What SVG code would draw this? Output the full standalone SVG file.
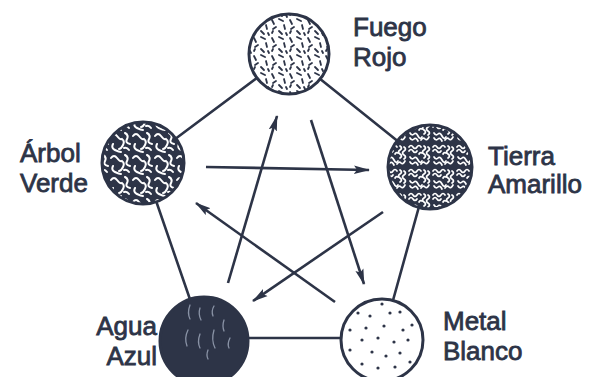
<svg xmlns="http://www.w3.org/2000/svg" width="593" height="377" viewBox="0 0 593 377">
<style>
.lbl{font-family:"Liberation Sans","Noto Sans",sans-serif;font-size:26px;fill:#2d3447;stroke:#2d3447;stroke-width:0.8}
.edge{stroke:#2d3447;stroke-width:2.6;fill:none;stroke-linecap:round}
.arr{stroke:#2d3447;stroke-width:2.6;fill:none;marker-end:url(#ah)}
.ring{stroke:#2d3447;stroke-width:3}
</style>
<defs>
<marker id="ah" markerUnits="userSpaceOnUse" markerWidth="18" markerHeight="10" refX="15" refY="5" orient="auto">
<path d="M0,0.8 L16,5 L0,9.2 L3,5 z" fill="#2d3447"/>
</marker>
<pattern id="pFuego" patternUnits="userSpaceOnUse" width="18" height="18">
<rect width="18" height="18" fill="#fff"/>
<g stroke="#2d3447" stroke-width="1.8" stroke-linecap="round">
<path d="M2,2 l2,4"/><path d="M9,1 l4,2"/><path d="M14,7 l1,4"/><path d="M6,9 l-3,2"/><path d="M9,13 l3,3"/><path d="M2,15 l1,-2"/><path d="M16,15 l1,2"/>
</g>
</pattern>
<pattern id="pArbol" patternUnits="userSpaceOnUse" width="22" height="22">
<rect width="22" height="22" fill="#2d3447"/>
<g stroke="#fff" stroke-width="2" fill="none" stroke-linecap="round">
<path d="M1,4 q3,-4 6,0 t5,3 q3,2 1,6 t-4,4"/>
<path d="M15,1 q4,2 2,6 t3,5"/>
<path d="M3,12 q-2,4 2,6 t6,2"/>
<path d="M14,16 q3,-1 5,2"/>
</g>
</pattern>
<pattern id="pTierra" patternUnits="userSpaceOnUse" width="24" height="24">
<rect width="24" height="24" fill="#2d3447"/>
<g stroke="#fff" stroke-width="1.7" fill="none" stroke-linecap="round">
<path d="M1,3 q2,-3 4,0 t4,0 t4,0"/>
<path d="M1,7 q2,-3 4,0 t4,0"/>
<path d="M16,2 q3,2 0,4 t0,4 t0,4"/>
<path d="M20,3 q3,2 0,4 t0,4 t0,4"/>
<path d="M2,13 q2,3 4,1 t4,2 t4,1"/>
<path d="M2,18 q2,3 4,1 t4,2"/>
<path d="M13,20 q2,-3 4,-1 t4,-2"/>
<path d="M11,10 q1,-2 3,-1"/>
</g>
</pattern>
</defs>

<g id="connectors">
<line class="edge" x1="289" y1="54" x2="143" y2="163"/>
<line class="edge" x1="289" y1="54" x2="430" y2="167"/>
<line class="edge" x1="143" y1="163" x2="204" y2="340"/>
<line class="edge" x1="430" y1="167" x2="382" y2="340"/>
<line class="edge" x1="204" y1="338" x2="382" y2="338"/>
<line class="arr" x1="206" y1="167" x2="369" y2="170"/>
<line class="arr" x1="228" y1="283" x2="277" y2="116"/>
<line class="arr" x1="311" y1="120" x2="364" y2="284"/>
<line class="arr" x1="383" y1="212" x2="253" y2="301"/>
<line class="arr" x1="335" y1="302" x2="196" y2="203"/>
</g>

<g id="fuego">
<circle class="ring" cx="289" cy="54" r="40" fill="url(#pFuego)"/>
<text class="lbl" x="353" y="36">Fuego</text>
<text class="lbl" x="353" y="66">Rojo</text>
</g>
<g id="arbol">
<circle class="ring" cx="143" cy="163" r="41" fill="url(#pArbol)"/>
<text class="lbl" x="20" y="162">Árbol</text>
<text class="lbl" x="20" y="192">Verde</text>
</g>
<g id="tierra">
<circle class="ring" cx="430" cy="167" r="42" fill="url(#pTierra)"/>
<text class="lbl" x="488" y="165">Tierra</text>
<text class="lbl" x="488" y="193">Amarillo</text>
</g>
<g id="agua">
<circle class="ring" cx="204" cy="341" r="44" fill="#2d3447"/>
<g stroke="#8a93a6" stroke-width="1.3" fill="none" stroke-linecap="round">
<path d="M190,305 q-3,8 0,14"/><path d="M200,308 q-2,6 1,12"/><path d="M214,306 q-3,5 -1,10"/>
<path d="M188,330 q-4,8 -1,16"/><path d="M200,334 q-3,8 0,14"/><path d="M214,330 q-3,10 1,18"/>
<path d="M224,320 q-2,6 0,11"/><path d="M208,350 q-2,5 0,9"/><path d="M230,338 q-3,6 -1,10"/>
</g>
<text class="lbl" x="157" y="335" text-anchor="end">Agua</text>
<text class="lbl" x="157" y="365" text-anchor="end">Azul</text>
</g>
<g id="metal">
<circle class="ring" cx="382" cy="340" r="41" fill="#fff"/>
<g fill="#2d3447">
<circle cx="382" cy="304" r="1.6"/><circle cx="358" cy="313" r="1.6"/><circle cx="370" cy="316" r="1.6"/><circle cx="390" cy="313" r="1.6"/><circle cx="400" cy="312" r="1.6"/>
<circle cx="350" cy="330" r="1.6"/><circle cx="366" cy="328" r="1.6"/><circle cx="384" cy="326" r="1.6"/><circle cx="403" cy="330" r="1.6"/><circle cx="412" cy="325" r="1.6"/>
<circle cx="362" cy="340" r="1.6"/><circle cx="378" cy="338" r="1.6"/><circle cx="394" cy="342" r="1.6"/><circle cx="408" cy="340" r="1.6"/>
<circle cx="350" cy="350" r="1.6"/><circle cx="372" cy="352" r="1.6"/><circle cx="386" cy="356" r="1.6"/><circle cx="400" cy="353" r="1.6"/>
<circle cx="362" cy="364" r="1.6"/><circle cx="378" cy="368" r="1.6"/><circle cx="395" cy="367" r="1.6"/><circle cx="410" cy="362" r="1.6"/>
</g>
<text class="lbl" x="443" y="330">Metal</text>
<text class="lbl" x="443" y="360">Blanco</text>
</g>
</svg>
